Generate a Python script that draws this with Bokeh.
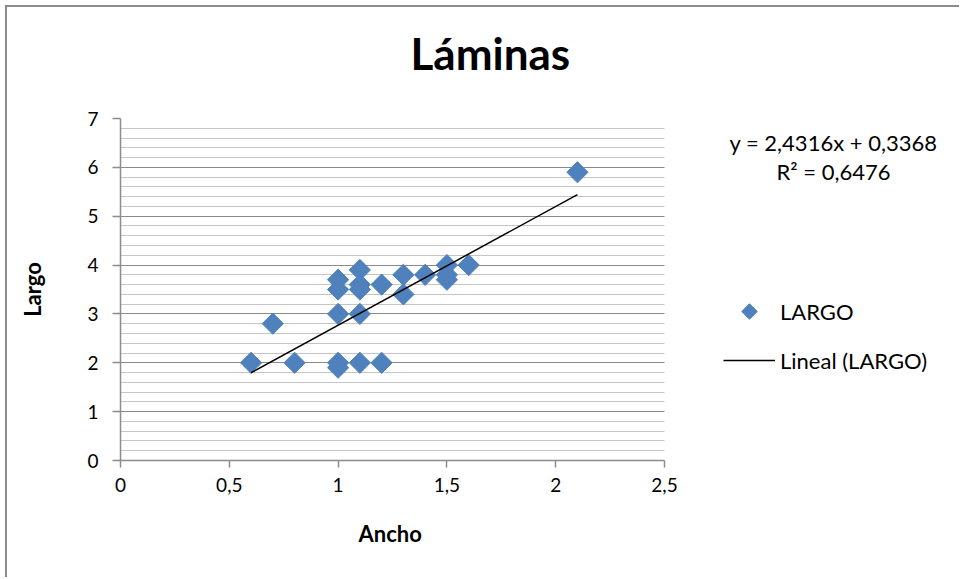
import math
from bokeh.plotting import figure
from bokeh.models import (Range1d, FixedTicker, Label, Legend, LegendItem,
                          CustomJSTickFormatter, BoxAnnotation, Title)
from bokeh.embed import file_html
from bokeh.resources import INLINE

# ---- data ----
ancho = [0.6, 0.7, 0.8, 1.0, 1.0, 1.0, 1.0, 1.0, 1.1, 1.1, 1.1, 1.1, 1.1,
         1.2, 1.2, 1.3, 1.3, 1.4, 1.5, 1.5, 1.5, 1.6, 2.1]
largo = [2.0, 2.8, 2.0, 1.9, 2.0, 3.0, 3.5, 3.7, 2.0, 3.0, 3.5, 3.6, 3.9,
         2.0, 3.6, 3.4, 3.8, 3.8, 3.7, 3.8, 4.0, 4.0, 5.9]
slope = 2.4316
intercept = 0.3368
r2 = 0.6476
x_ticks = [0, 0.5, 1, 1.5, 2, 2.5]
y_ticks = [0, 1, 2, 3, 4, 5, 6, 7]
y_minor = [i / 5 for i in range(36)]

title_txt = "Láminas"
x_title = "Ancho"
y_title = "Largo"
eq_txt = "y = 2,4316x + 0,3368"
r2_txt = "R² = 0,6476"
series_name = "LARGO"
trend_name = "Lineal (LARGO)"

FONT = "Lato"
BLUE = "#4F81BD"

# ---- layout (pixels) ----
W, H = 954, 572
LEFT, TOP, BOTTOM = 113, 111, 119
PLOT_W, PLOT_H = 544, 342        # axis area (0..2.5 x 0..7)
FRAME_W = W - LEFT               # frame runs to the right edge
X_MAX = x_ticks[-1]
Y_MAX = y_ticks[-1]
x_end = X_MAX * FRAME_W / PLOT_W
px = PLOT_W / X_MAX              # px per x unit
py = PLOT_H / Y_MAX              # px per y unit
ORG_X, ORG_Y = 120, 460          # page position of the (0, 0) point


def dx(page_x):
    return (page_x - ORG_X) / px


def dy(page_y):
    return (ORG_Y - page_y) / py


p = figure(width=W, height=H, output_backend="svg", toolbar_location=None,
           x_range=Range1d(0, x_end), y_range=Range1d(0, Y_MAX),
           min_border_left=LEFT, min_border_right=0,
           min_border_top=TOP, min_border_bottom=BOTTOM)
p.styles = {"margin-left": "5px", "margin-top": "5px",
            "border-left": "2px solid #8c8c8c", "border-top": "2px solid #8c8c8c"}
p.outline_line_color = None
p.background_fill_color = "white"
p.border_fill_color = "white"

# title (a thin spacer title keeps it away from the plot area)
p.title.text = title_txt
p.title.align = "left"
p.title.offset = 290
p.title.text_font = FONT
p.title.text_font_size = "44px"
p.title.text_font_style = "bold"
p.title.text_color = "black"
p.title.standoff = 0
p.add_layout(Title(text=" ", text_font_size="1px", standoff=37), "above")

# axes
p.xaxis.ticker = FixedTicker(ticks=x_ticks)
p.xaxis.bounds = (0, X_MAX)
p.yaxis.ticker = FixedTicker(ticks=y_ticks, minor_ticks=y_minor)
fmt = CustomJSTickFormatter(code="return String(tick).replace('.', ',');")
p.xaxis.formatter = fmt
p.yaxis.formatter = fmt
for ax in (p.xaxis, p.yaxis):
    ax.axis_line_color = "#8c8c8c"
    ax.axis_line_width = 1.5
    ax.major_tick_line_color = "#8c8c8c"
    ax.major_tick_line_width = 1.5
    ax.minor_tick_line_color = None
    ax.major_tick_in = 0
    ax.major_label_text_font = FONT
    ax.major_label_text_font_size = "19px"
    ax.major_label_text_color = "black"
    ax.axis_label_text_font = FONT
    ax.axis_label_text_font_size = "22px"
    ax.axis_label_text_font_style = "bold"
    ax.axis_label_text_color = "black"
p.xaxis.major_tick_out = 7
p.yaxis.major_tick_out = 8
p.yaxis.axis_label = y_title
p.xaxis.major_label_standoff = 10
p.yaxis.major_label_standoff = 14
p.yaxis.axis_label_standoff = 38

# x-axis title centred under the axis area (not the whole frame)
p.add_layout(Title(text=x_title, align="left", offset=238,
                   text_font=FONT, text_font_size="22px",
                   text_font_style="bold", text_color="black",
                   standoff=46), "below")

# grids
p.xgrid.grid_line_color = None
p.ygrid.grid_line_color = "#8a8a8a"
p.ygrid.grid_line_width = 1.2
p.ygrid.minor_grid_line_color = "#c4c4c4"
p.ygrid.minor_grid_line_width = 1.2

# blank out the grid to the right of the axis area (legend area)
p.add_layout(BoxAnnotation(left=X_MAX, fill_color="white", fill_alpha=1,
                           line_color=None, level="underlay"))

# data
pts = p.scatter(ancho, largo, marker="square", size=15, angle=math.pi / 4,
                fill_color=BLUE, line_color=BLUE)
x0, x1 = min(ancho), max(ancho)
tr = p.line([x0, x1], [slope * x0 + intercept, slope * x1 + intercept],
            line_color="black", line_width=1.5)

# equation text
eq_x = dx(833)
p.add_layout(Label(x=eq_x, y=dy(142), text=eq_txt,
                   text_align="center", text_baseline="alphabetic",
                   text_font=FONT, text_font_size="22px", text_color="black"))
p.add_layout(Label(x=eq_x, y=dy(171), text=r2_txt,
                   text_align="center", text_baseline="alphabetic",
                   text_font=FONT, text_font_size="22px", text_color="black"))

# legend: the diamond swatch is drawn as a rotated square (legend glyphs ignore angle)
swatch = p.scatter([dx(749)], [dy(311)], marker="square", size=11,
                   angle=math.pi / 4, fill_color=BLUE, line_color=BLUE)
ghost = p.scatter([], [], marker="square", fill_alpha=0, line_alpha=0)
legend = Legend(items=[LegendItem(label=series_name, renderers=[ghost]),
                       LegendItem(label=trend_name, renderers=[tr])],
                location=(603, 86), padding=0, margin=0,
                border_line_color=None, background_fill_alpha=0,
                glyph_width=52, glyph_height=28, label_height=28,
                spacing=21, label_standoff=5,
                label_text_font=FONT, label_text_font_size="22px",
                label_text_color="black")
p.add_layout(legend, "center")

open("out.html", "w").write(file_html(p, INLINE))
